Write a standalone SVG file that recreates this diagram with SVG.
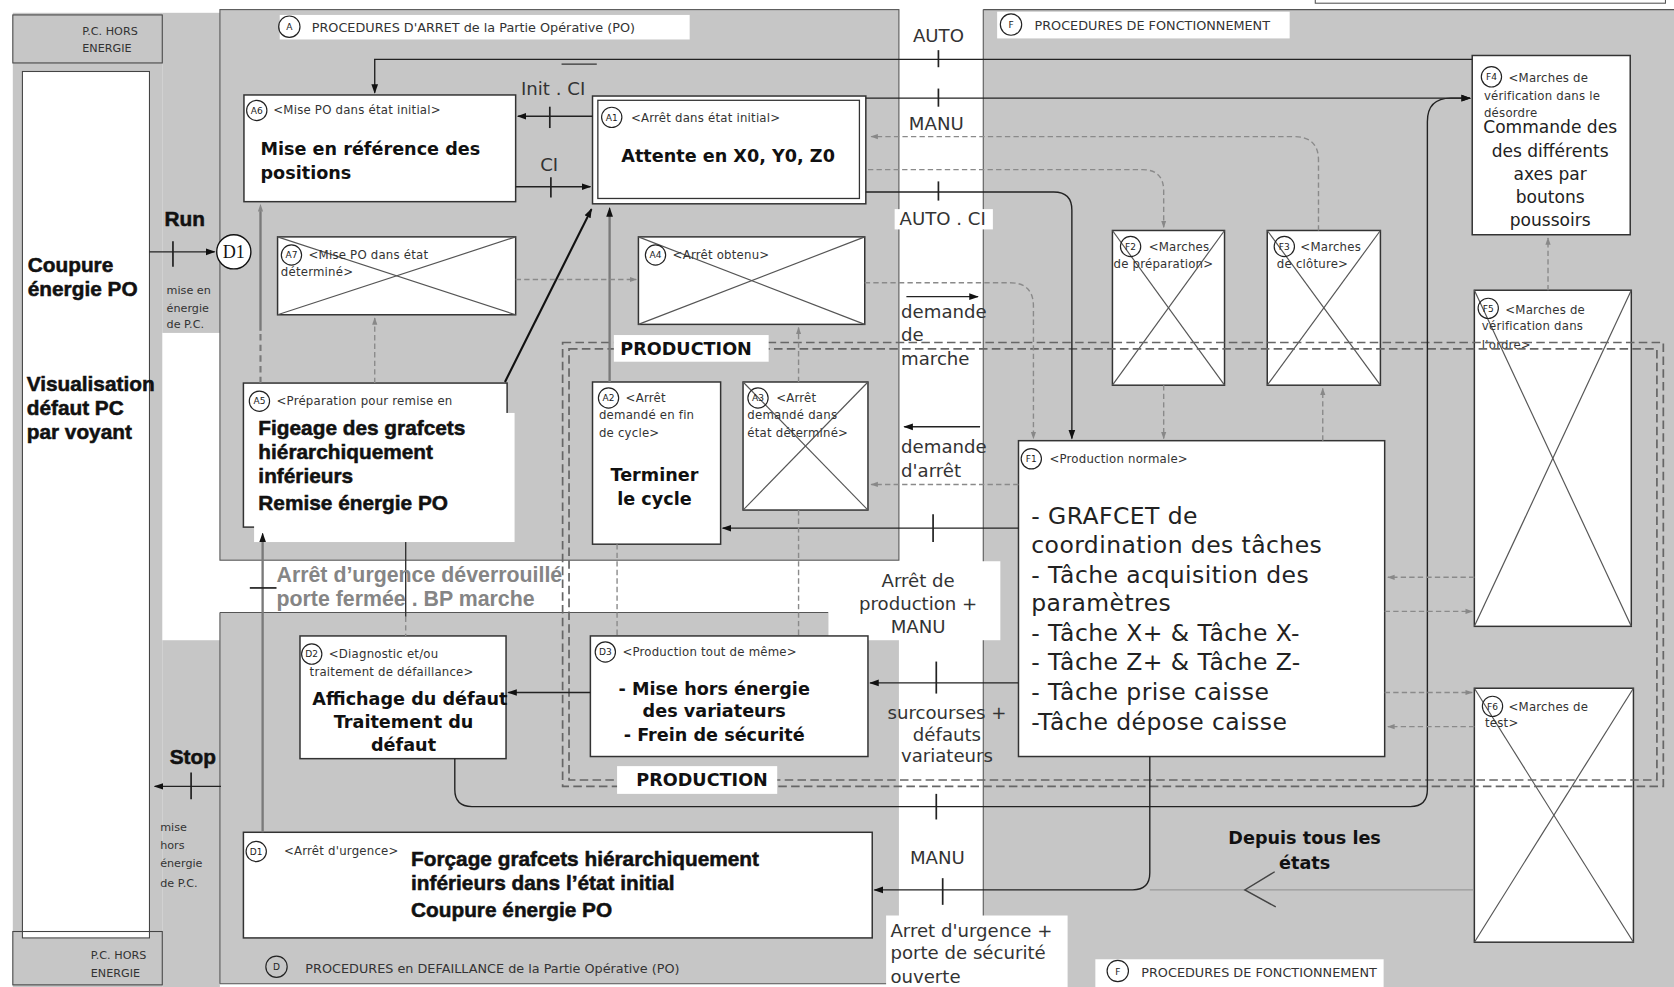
<svg xmlns="http://www.w3.org/2000/svg" width="1674" height="987" viewBox="0 0 1674 987">
<style>
.reg{fill:#c6c6c6}
.rb{fill:none;stroke:#555;stroke-width:1}
.box{fill:#fff;stroke:#333;stroke-width:1.4}
.x{stroke:#555;stroke-width:1.1}
.cir{fill:none;stroke:#222;stroke-width:1.1}
.cl{font-family:"DejaVu Sans",sans-serif;font-size:8.5px;fill:#222;text-anchor:middle}
.hdr{font-family:"DejaVu Sans",sans-serif;font-size:11px;fill:#333;letter-spacing:0.2px}
.ttl{font-family:"DejaVu Sans",sans-serif;font-size:12px;fill:#333}
.main{font-family:"DejaVu Sans",sans-serif;font-weight:bold;font-size:16.5px;fill:#111}
.mid{text-anchor:middle}
.heavy{font-family:"Liberation Sans",Arial,sans-serif;font-weight:bold;font-size:19.5px;fill:#111;stroke:#111;stroke-width:0.5}
.f1{font-family:"DejaVu Sans",sans-serif;font-size:22px;fill:#222;letter-spacing:0.4px}
.f4{font-family:"DejaVu Sans",sans-serif;font-size:16px;fill:#222;text-anchor:middle}
.lbl{font-family:"DejaVu Sans",sans-serif;font-size:17px;fill:#333}
.sm{font-family:"DejaVu Sans",sans-serif;font-size:10.5px;fill:#333}
.grey{font-family:"Liberation Sans",Arial,sans-serif;font-weight:bold;font-size:20px;fill:#858585}
.wire{fill:none;stroke:#222;stroke-width:1.3}
.gw{fill:none;stroke:#7a7a7a;stroke-width:2.2}
.dash{fill:none;stroke:#8a8a8a;stroke-width:1.3;stroke-dasharray:5 3}
.prod{fill:none;stroke:#666;stroke-width:1.6;stroke-dasharray:8 4}
.tick{stroke:#222;stroke-width:1.6}
.wh{fill:#fff}
</style>
<defs>
<marker id="ah" viewBox="0 0 10 10" refX="9" refY="5" markerWidth="9" markerHeight="9" markerUnits="userSpaceOnUse" orient="auto"><path d="M0,1.5 L10,5 L0,8.5 z" fill="#111"/></marker>
<marker id="ag" viewBox="0 0 10 10" refX="9" refY="5" markerWidth="7" markerHeight="7" markerUnits="userSpaceOnUse" orient="auto"><path d="M0,1.5 L10,5 L0,8.5 z" fill="#888"/></marker>
</defs>
<rect x="0" y="0" width="1674" height="987" fill="#fff"/>
<g transform="scale(1.0676,1.06703)">
<g id="background">
<rect class="reg" x="12" y="12" width="140" height="913"/>
<rect class="reg" x="152" y="12" width="54" height="300"/>
<rect class="reg" x="152" y="600" width="54" height="325"/>
<rect class="reg" x="206" y="9" width="636" height="516"/>
<rect class="rb" x="206" y="9" width="636" height="516"/>
<rect class="reg" x="206" y="574" width="636" height="348"/>
<line class="rb" x1="206" y1="574" x2="776" y2="574"/>
<line class="rb" x1="206" y1="574" x2="206" y2="922"/>
<line class="rb" x1="206" y1="922" x2="842" y2="922"/>
<rect class="reg" x="921" y="9" width="647" height="916"/>
<line class="rb" x1="921" y1="9" x2="1568" y2="9"/>
<line class="rb" x1="921" y1="9" x2="921" y2="925"/>
<rect x="1232" y="-2" width="328" height="5" fill="#fff" stroke="#555"/>
<rect class="wh" x="776" y="526" width="161" height="74"/>
<rect class="wh" x="830" y="858" width="170" height="67"/>
<rect class="wh" x="838" y="196" width="92" height="19"/>
</g>
<g id="titles">
<rect class="wh" x="262" y="14" width="384" height="23"/>
<circle class="cir" cx="271" cy="25" r="10"/><text class="cl" x="271" y="28.5" font-size="10">A</text>
<text class="ttl" x="292" y="30">PROCEDURES D'ARRET de la Partie Opérative (PO)</text>
<circle class="cir" cx="259" cy="906" r="10"/><text class="cl" x="259" y="909.5" font-size="10">D</text>
<text class="ttl" x="286" y="912">PROCEDURES en DEFAILLANCE de la Partie Opérative (PO)</text>
<rect class="wh" x="934" y="11" width="274" height="25"/>
<circle class="cir" cx="947" cy="23" r="10"/><text class="cl" x="947" y="26.5" font-size="10">F</text>
<text class="ttl" x="969" y="28">PROCEDURES DE FONCTIONNEMENT</text>
<rect class="wh" x="1026" y="899" width="270" height="26"/>
<circle class="cir" cx="1047" cy="910" r="10"/><text class="cl" x="1047" y="913.5" font-size="10">F</text>
<text class="ttl" x="1069" y="916">PROCEDURES DE FONCTIONNEMENT</text>
</g>
<g id="PC">
<rect x="12" y="14" width="140" height="45" fill="none" stroke="#444"/>
<text class="sm" x="77" y="33" font-size="12">P.C. HORS</text>
<text class="sm" x="77" y="48.5" font-size="12">ENERGIE</text>
<rect x="21" y="67" width="119" height="812" fill="#fff" stroke="#444"/>
<text class="heavy" x="26" y="255">Coupure</text>
<text class="heavy" x="26" y="277">énergie PO</text>
<text class="heavy" x="25" y="366">Visualisation</text>
<text class="heavy" x="25" y="389">défaut PC</text>
<text class="heavy" x="25" y="411">par voyant</text>
<rect x="12" y="873" width="140" height="50" fill="none" stroke="#444"/>
<text class="sm" x="85" y="899" font-size="12">P.C. HORS</text>
<text class="sm" x="85" y="916" font-size="12">ENERGIE</text>
</g>
<g id="D1circle">
<circle cx="219" cy="236" r="16" fill="#fff" stroke="#111" stroke-width="1.3"/>
<text x="219" y="242" font-family="Liberation Serif,serif" font-size="17" text-anchor="middle" fill="#111">D1</text>
</g>
<g id="A6">
<rect class="box" x="228.5" y="89" width="254.5" height="100"/>
<circle class="cir" cx="240.5" cy="103.5" r="9.5"/><text class="cl" x="240.5" y="106.5">A6</text>
<text class="hdr" x="256" y="107">&lt;Mise PO dans état initial&gt;</text>
<text class="main" x="244" y="145">Mise en référence des</text>
<text class="main" x="244" y="168">positions</text>
</g>
<g id="A1">
<rect class="box" x="555" y="90" width="256" height="101"/>
<rect x="560" y="94" width="245" height="92" fill="none" stroke="#333" stroke-width="1.2"/>
<circle class="cir" cx="573" cy="110" r="9.5"/><text class="cl" x="573" y="113">A1</text>
<text class="hdr" x="591" y="114">&lt;Arrêt dans état initial&gt;</text>
<text class="main mid" x="682" y="152">Attente en X0, Y0, Z0</text>
</g>
<g id="A7">
<rect class="box" x="260" y="222" width="223" height="73"/>
<line class="x" x1="260" y1="222" x2="483" y2="295"/><line class="x" x1="483" y1="222" x2="260" y2="295"/>
<circle class="cir" cx="273" cy="239" r="9.5"/><text class="cl" x="273" y="242">A7</text>
<text class="hdr" x="289" y="243">&lt;Mise PO dans état</text>
<text class="hdr" x="263" y="259">déterminé&gt;</text>
</g>
<g id="A4">
<rect class="box" x="598" y="222" width="212" height="82"/>
<line class="x" x1="598" y1="222" x2="810" y2="304"/><line class="x" x1="810" y1="222" x2="598" y2="304"/>
<circle class="cir" cx="614" cy="239" r="9.5"/><text class="cl" x="614" y="242">A4</text>
<text class="hdr" x="630" y="243">&lt;Arrêt obtenu&gt;</text>
</g>
<g id="A5">
<rect class="box" x="228" y="359" width="247" height="135"/>
<circle class="cir" cx="243" cy="376" r="9.5"/><text class="cl" x="243" y="379">A5</text>
<text class="hdr" x="259" y="380">&lt;Préparation pour remise en</text>
<rect class="wh" x="238" y="387" width="244" height="121"/>
<text class="heavy" x="242" y="408">Figeage des grafcets</text>
<text class="heavy" x="242" y="430">hiérarchiquement</text>
<text class="heavy" x="242" y="453">inférieurs</text>
<text class="heavy" x="242" y="478">Remise énergie PO</text>
</g>
<g id="A2">
<rect class="box" x="555" y="358" width="120" height="152"/>
<circle class="cir" cx="570" cy="373" r="9.5"/><text class="cl" x="570" y="376">A2</text>
<text class="hdr" x="586" y="377">&lt;Arrêt</text>
<text class="hdr" x="561" y="393">demandé en fin</text>
<text class="hdr" x="561" y="410">de cycle&gt;</text>
<text class="main mid" x="613" y="451">Terminer</text>
<text class="main mid" x="613" y="473">le cycle</text>
</g>
<g id="A3">
<rect class="box" x="696" y="358" width="117" height="120"/>
<line class="x" x1="696" y1="358" x2="813" y2="478"/><line class="x" x1="813" y1="358" x2="696" y2="478"/>
<circle class="cir" cx="710" cy="373" r="9.5"/><text class="cl" x="710" y="376">A3</text>
<text class="hdr" x="727" y="377">&lt;Arrêt</text>
<text class="hdr" x="700" y="393">demandé dans</text>
<text class="hdr" x="700" y="410">état déterminé&gt;</text>
</g>
<g id="D2">
<rect class="box" x="281" y="596" width="193" height="115"/>
<circle class="cir" cx="292" cy="613" r="9.5"/><text class="cl" x="292" y="616">D2</text>
<text class="hdr" x="308" y="617">&lt;Diagnostic et/ou</text>
<text class="hdr" x="290" y="634">traitement de défaillance&gt;</text>
<text class="main mid" x="384" y="661">Affichage du défaut</text>
<text class="main mid" x="378" y="682">Traitement du</text>
<text class="main mid" x="378" y="704">défaut</text>
</g>
<g id="D3">
<rect class="box" x="553" y="596" width="260" height="113"/>
<circle class="cir" cx="567" cy="611" r="9.5"/><text class="cl" x="567" y="614">D3</text>
<text class="hdr" x="583" y="615">&lt;Production tout de même&gt;</text>
<text class="main mid" x="669" y="651">- Mise hors énergie</text>
<text class="main mid" x="669" y="672">des variateurs</text>
<text class="main mid" x="669" y="694">- Frein de sécurité</text>
</g>
<g id="D1">
<rect class="box" x="228" y="780" width="589" height="99"/>
<circle class="cir" cx="240" cy="798" r="9.5"/><text class="cl" x="240" y="801">D1</text>
<text class="hdr" x="266" y="801">&lt;Arrêt d'urgence&gt;</text>
<text class="heavy" x="385" y="812">Forçage grafcets hiérarchiquement</text>
<text class="heavy" x="385" y="834">inférieurs dans l’état initial</text>
<text class="heavy" x="385" y="859">Coupure énergie PO</text>
</g>
<g id="F1">
<rect class="box" x="954" y="413" width="343" height="296"/>
<circle class="cir" cx="966" cy="430" r="9.5"/><text class="cl" x="966" y="433">F1</text>
<text class="hdr" x="983" y="434">&lt;Production normale&gt;</text>
<text class="f1" x="966" y="491">- GRAFCET de</text>
<text class="f1" x="966" y="518">coordination des tâches</text>
<text class="f1" x="966" y="546">- Tâche acquisition des</text>
<text class="f1" x="966" y="573">paramètres</text>
<text class="f1" x="966" y="601">- Tâche X+ &amp; Tâche X-</text>
<text class="f1" x="966" y="628">- Tâche Z+ &amp; Tâche Z-</text>
<text class="f1" x="966" y="656">- Tâche prise caisse</text>
<text class="f1" x="966" y="684">-Tâche dépose caisse</text>
</g>
<g id="F2">
<rect class="box" x="1042" y="216" width="105" height="145"/>
<line class="x" x1="1042" y1="216" x2="1147" y2="361"/><line class="x" x1="1147" y1="216" x2="1042" y2="361"/>
<circle class="cir" cx="1059" cy="231" r="9.5"/><text class="cl" x="1059" y="234">F2</text>
<text class="hdr" x="1076" y="235">&lt;Marches</text>
<text class="hdr" x="1043" y="251">de préparation&gt;</text>
</g>
<g id="F3">
<rect class="box" x="1187" y="216" width="106" height="145"/>
<line class="x" x1="1187" y1="216" x2="1293" y2="361"/><line class="x" x1="1293" y1="216" x2="1187" y2="361"/>
<circle class="cir" cx="1203" cy="231" r="9.5"/><text class="cl" x="1203" y="234">F3</text>
<text class="hdr" x="1218" y="235">&lt;Marches</text>
<text class="hdr" x="1196" y="251">de clôture&gt;</text>
</g>
<g id="F4">
<rect class="box" x="1379" y="52" width="148" height="168"/>
<circle class="cir" cx="1397" cy="72" r="9.5"/><text class="cl" x="1397" y="75">F4</text>
<text class="hdr" x="1413" y="77">&lt;Marches de</text>
<text class="hdr" x="1390" y="94">vérification dans le</text>
<text class="hdr" x="1390" y="110">désordre</text>
<text class="f4" x="1452" y="125">Commande des</text>
<text class="f4" x="1452" y="147">des différents</text>
<text class="f4" x="1452" y="169">axes par</text>
<text class="f4" x="1452" y="190">boutons</text>
<text class="f4" x="1452" y="212">poussoirs</text>
</g>
<g id="F5">
<rect class="box" x="1381" y="272" width="147" height="315"/>
<line class="x" x1="1381" y1="272" x2="1528" y2="587"/><line class="x" x1="1528" y1="272" x2="1381" y2="587"/>
<circle class="cir" cx="1394" cy="289" r="9.5"/><text class="cl" x="1394" y="292">F5</text>
<text class="hdr" x="1410" y="294">&lt;Marches de</text>
<text class="hdr" x="1388" y="309">vérification dans</text>
<text class="hdr" x="1388" y="327">l'ordre&gt;</text>
</g>
<g id="F6">
<rect class="box" x="1381" y="645" width="149" height="238"/>
<line class="x" x1="1381" y1="645" x2="1530" y2="883"/><line class="x" x1="1530" y1="645" x2="1381" y2="883"/>
<circle class="cir" cx="1398" cy="662" r="9.5"/><text class="cl" x="1398" y="665">F6</text>
<text class="hdr" x="1413" y="666">&lt;Marches de</text>
<text class="hdr" x="1391" y="681">test&gt;</text>
</g>
<g id="production-zone">
<rect class="prod" x="527" y="321" width="1031" height="416"/>
<rect class="prod" x="533" y="327" width="1019" height="404"/>
<rect class="wh" x="575" y="314" width="145" height="25"/>
<text class="main" x="581" y="333" font-size="17.5">PRODUCTION</text>
<rect class="wh" x="578" y="718" width="150" height="26"/>
<text class="main" x="596" y="737" font-size="17.5">PRODUCTION</text>
</g>
<g id="connectors">
<path class="wire" d="M1379,55.6 H351 V87" marker-end="url(#ah)"/>
<line class="tick" x1="879" y1="47" x2="879" y2="63"/>
<path class="wire" d="M811,92 H1377" marker-end="url(#ah)"/>
<line class="tick" x1="879" y1="83" x2="879" y2="100"/>
<path class="wire" d="M426,711 V740 Q426,756 442,756 H1321 Q1337,756 1337,740 V114 Q1337,92 1359,92 H1377" marker-end="url(#ah)"/>
<line class="tick" x1="877" y1="744" x2="877" y2="768"/>
<path class="wire" d="M555,109 H485" marker-end="url(#ah)"/>
<line class="tick" x1="515" y1="100" x2="515" y2="120"/>
<path class="wire" d="M483,175 H553" marker-end="url(#ah)"/>
<line class="tick" x1="516" y1="166" x2="516" y2="185"/>
<path class="wire" d="M811,180 H987 Q1004,180 1004,197 V411" marker-end="url(#ah)"/>
<line class="tick" x1="879" y1="170" x2="879" y2="188"/>
<path class="wire" d="M954,495 H677" marker-end="url(#ah)"/>
<line class="tick" x1="874" y1="482" x2="874" y2="508"/>
<path class="wire" d="M954,640 H815" marker-end="url(#ah)"/>
<line class="tick" x1="877" y1="620" x2="877" y2="650"/>
<path class="wire" d="M553,649 H476" marker-end="url(#ah)"/>
<path class="wire" d="M1077,709 V818 Q1077,834 1061,834 H819" marker-end="url(#ah)"/>
<line class="tick" x1="883" y1="823" x2="883" y2="848"/>
<line x1="1380" y1="834" x2="1077" y2="834" stroke="#999" stroke-width="1.3"/>
<path d="M1194,817 L1166,834 L1195,850" fill="none" stroke="#444" stroke-width="1.3"/>
<path class="gw" d="M246,780 V505"/>
<path d="M246,505 V500" stroke="#111" stroke-width="1" marker-end="url(#ah)"/>
<line class="tick" x1="234" y1="551" x2="259" y2="551" stroke="#777"/>
<path d="M473,358 L554,196" fill="none" stroke="#111" stroke-width="2" marker-end="url(#ah)"/>
<path class="gw" d="M571,358 V200"/>
<path d="M571,202 V195" stroke="#111" marker-end="url(#ah)"/>
<path class="gw" d="M244,310 V198"/>
<path d="M244,359 V310" fill="none" stroke="#7a7a7a" stroke-width="2" stroke-dasharray="6 4"/>
<path d="M244,200 V192" stroke="#7a7a7a" marker-end="url(#ag)"/>
<path class="wire" d="M140,236 H201" marker-end="url(#ah)"/>
<line class="tick" x1="162" y1="226" x2="162" y2="250"/>
<path class="wire" d="M207,737 H145" marker-end="url(#ah)"/>
<line class="tick" x1="179" y1="724" x2="179" y2="749"/>
<path class="wire" d="M849,278 H916" marker-end="url(#ah)"/>
<path class="wire" d="M918,400 H847" marker-end="url(#ah)"/>
<path class="dash" d="M1235,216 V150 Q1235,128 1212,128 H816" marker-end="url(#ag)"/>
<path class="dash" d="M813,159 H1070 Q1090,159 1090,179 V213" marker-end="url(#ag)"/>
<path class="dash" d="M810,265 H946 Q968,265 968,287 V411" marker-end="url(#ag)"/>
<path class="dash" d="M1090,361 V411" marker-end="url(#ag)"/>
<path class="dash" d="M1239,413 V364" marker-end="url(#ag)"/>
<path class="dash" d="M954,454 H816" marker-end="url(#ag)"/>
<path class="dash" d="M1450,272 V223" marker-end="url(#ag)"/>
<path class="dash" d="M1381,541 H1300" marker-end="url(#ag)"/>
<path class="dash" d="M1297,573 H1379" marker-end="url(#ag)"/>
<path class="dash" d="M1297,649 H1379" marker-end="url(#ag)"/>
<path class="dash" d="M1381,681 H1300" marker-end="url(#ag)"/>
<path class="dash" d="M483,262 H596" marker-end="url(#ag)"/>
<path class="dash" d="M351,359 V298" marker-end="url(#ag)"/>
<path class="dash" d="M748,358 V307" marker-end="url(#ag)"/>
<path class="dash" d="M578,510 V596"/>
<path class="dash" d="M748,478 V596"/>
<line x1="380" y1="508" x2="380" y2="578" stroke="#333" stroke-width="1.3"/>
<path class="dash" d="M380,578 V596"/>
</g>
<g id="labels">
<text class="lbl mid" x="879" y="39" font-size="18.5">AUTO</text>
<text class="lbl mid" x="877" y="122" font-size="18">MANU</text>
<text class="lbl mid" x="883" y="211" font-size="18">AUTO . CI</text>
<text class="lbl" x="488" y="89" font-size="18">Init . CI</text>
<line x1="526" y1="60" x2="559" y2="60" stroke="#333" stroke-width="1.2"/>
<text class="lbl" x="506" y="160" font-size="18">CI</text>
<text class="lbl" x="844" y="298" font-size="15.5">demande</text>
<text class="lbl" x="844" y="320" font-size="15.5">de</text>
<text class="lbl" x="844" y="342" font-size="15.5">marche</text>
<text class="lbl" x="844" y="425" font-size="15.5">demande</text>
<text class="lbl" x="844" y="447" font-size="15.5">d'arrêt</text>
<text class="lbl mid" x="860" y="550" font-size="16.5">Arrêt de</text>
<text class="lbl mid" x="860" y="572" font-size="16.5">production +</text>
<text class="lbl mid" x="860" y="593" font-size="16.5">MANU</text>
<text class="lbl mid" x="887" y="674" font-size="17">surcourses +</text>
<text class="lbl mid" x="887" y="694" font-size="17">défauts</text>
<text class="lbl mid" x="887" y="714" font-size="17">variateurs</text>
<text class="lbl mid" x="878" y="810" font-size="17">MANU</text>
<text class="lbl" x="834" y="878" font-size="17">Arret d'urgence +</text>
<text class="lbl" x="834" y="899" font-size="17">porte de sécurité</text>
<text class="lbl" x="834" y="921" font-size="17">ouverte</text>
<text class="main mid" x="1222" y="791" font-size="15">Depuis tous les</text>
<text class="main mid" x="1222" y="814" font-size="15">états</text>
<text class="grey" x="259" y="545">Arrêt d’urgence déverrouillé</text>
<text class="grey" x="259" y="568">porte fermée . BP marche</text>
<text class="heavy" x="154" y="212" font-size="18.5">Run</text>
<text class="heavy" x="159" y="716" font-size="18.5">Stop</text>
<text class="sm" x="156" y="276">mise en</text>
<text class="sm" x="156" y="292">énergie</text>
<text class="sm" x="156" y="307">de P.C.</text>
<text class="sm" x="150" y="779">mise</text>
<text class="sm" x="150" y="796">hors</text>
<text class="sm" x="150" y="813">énergie</text>
<text class="sm" x="150" y="831">de P.C.</text>
</g>
</g>
</svg>
